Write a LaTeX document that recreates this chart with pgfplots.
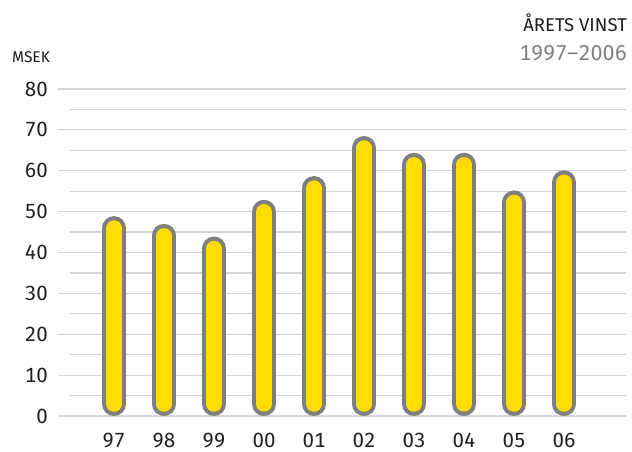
\documentclass[border=0pt]{standalone}
\usepackage{pgfplots}
\pgfplotsset{compat=1.18}
\usepackage{pgfplotstable}
\usepackage{fontspec}
\setmainfont{Fira Sans}[Numbers={Monospaced,Lining}]

\definecolor{baryellow}{HTML}{FFDD00}
\definecolor{barline}{HTML}{7F7F7F}
\definecolor{gridc}{HTML}{D6D6D6}
\definecolor{textc}{HTML}{1E1E1E}
\definecolor{subc}{HTML}{808080}

% Annual profit, MSEK
\pgfplotstableread{
i v
0 48.9
1 47.0
2 43.9
3 52.9
4 58.7
5 68.5
6 64.4
7 64.4
8 55.2
9 60.1
}\profit

% half the outer bar width in data units (12pt / 4.0875pt per MSEK)
\def\rOut{2.936}

\begin{document}
\begin{tikzpicture}
\useasboundingbox (-58pt,-36pt) rectangle (574pt,416pt);
\begin{axis}[
  at={(0,0)}, anchor=south west,
  scale only axis,
  width=568pt, height=327pt,
  xmin=-1.12, xmax=10.24,
  ymin=0, ymax=80,
  clip=false,
  axis line style={draw=none},
  major tick length=0pt,
  xtick={0,...,9},
  xticklabels={97,98,99,00,01,02,03,04,05,06},
  ytick={0,10,...,80},
  ymajorgrids,
  grid style={gridc, line width=1.2pt},
  /pgf/number format/assume math mode=true,
  tick label style={color=textc, font=\fontsize{20.5}{24}\selectfont},
  yticklabel style={anchor=east, inner sep=0pt, xshift=-10pt},
  xticklabel style={anchor=base, inner sep=0pt, yshift=-32pt},
]
% half-step grid lines, slightly indented
\pgfplotsinvokeforeach{5,15,25,35,45,55,65,75}{
  \draw[gridc, line width=1.2pt] (axis cs:-0.88,#1) -- (axis cs:10.24,#1);
}
% rounded bars: grey outline, then yellow core
\addplot[draw=none, no markers,
  error bars/.cd, y dir=minus, y explicit, error mark=none,
  error bar style={line width=24pt, line cap=round, draw=barline}]
  table[x=i, y expr=\thisrow{v}-\rOut, y error minus expr=\thisrow{v}-2*\rOut] {\profit};
\addplot[draw=none, no markers,
  error bars/.cd, y dir=minus, y explicit, error mark=none,
  error bar style={line width=15.5pt, line cap=round, draw=baryellow}]
  table[x=i, y expr=\thisrow{v}-\rOut, y error minus expr=\thisrow{v}-2*\rOut] {\profit};
\end{axis}
\node[anchor=base east, inner sep=0pt, text=textc, font=\fontsize{18.5}{22}\selectfont] at (569pt,384pt) {ÅRETS VINST};
\node[anchor=base east, inner sep=0pt, text=subc, font=\fontsize{21.5}{24}\selectfont] at (569pt,355pt) {1997–2006};
\node[anchor=base west, inner sep=0pt, text=textc, font=\fontsize{15.5}{18}\selectfont] at (-46pt,353pt) {MSEK};
\end{tikzpicture}
\end{document}
